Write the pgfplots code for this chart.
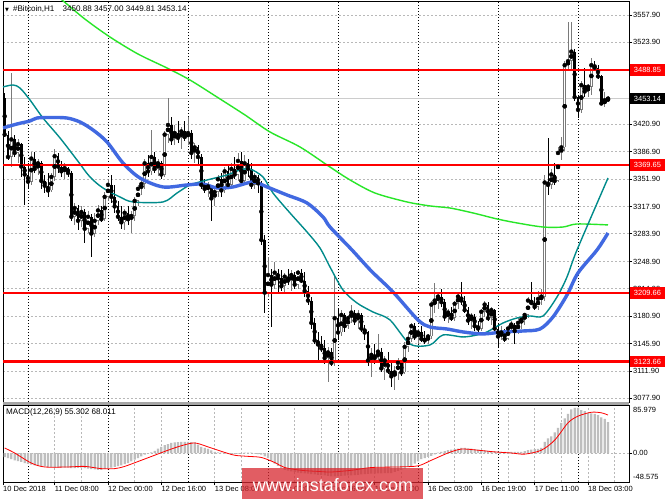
\documentclass[border=0pt]{standalone}
\usepackage{fontspec}
\setmainfont{Liberation Sans}
\newfontfamily\dejavu{DejaVu Sans}
\usepackage{pgfplots}
\usepackage{pgfplotstable}
\pgfplotsset{compat=1.18}
\newcommand\lbl{\fontsize{7.5}{9}\selectfont}
\newcommand\ttl{\fontsize{8.1}{9.5}\selectfont}
\definecolor{bullc}{HTML}{7A7A7A}
\definecolor{maBlue}{HTML}{4169E1}
\definecolor{maTeal}{HTML}{008B8B}
\definecolor{maGreen}{HTML}{28E628}
\definecolor{histc}{HTML}{BEBEBE}
\definecolor{gridc}{HTML}{B8B8B8}
\definecolor{lvlred}{HTML}{FF0000}
\definecolor{wmred}{HTML}{D7282F}

\pgfplotstableread{
i O H L C
1 3454 3460 3405 3408
2 3408 3412 3376 3380
3 3380 3485 3368 3402
4 3402 3408 3380 3385
5 3385 3402 3372 3396
6 3396 3398 3355 3368
7 3368 3380 3320 3358
8 3358 3372 3340 3349
9 3349 3386 3345 3378
10 3378 3386 3360 3365
11 3365 3378 3358 3372
12 3372 3375 3340 3350
13 3350 3358 3335 3344
14 3344 3360 3330 3338
15 3338 3360 3336 3355
16 3355 3390 3350 3381
17 3381 3385 3360 3368
18 3368 3375 3355 3362
19 3362 3372 3352 3366
20 3366 3368 3355 3360
21 3360 3362 3300 3305
22 3305 3322 3295 3316
23 3316 3320 3288 3300
24 3300 3318 3292 3311
25 3311 3315 3272 3290
26 3290 3312 3285 3305
27 3305 3308 3255 3284
28 3284 3310 3280 3300
29 3300 3320 3295 3313
30 3313 3318 3298 3302
31 3302 3336 3300 3330
32 3330 3352 3325 3345
33 3345 3358 3322 3330
34 3330 3345 3310 3318
35 3318 3325 3300 3305
36 3305 3318 3290 3298
37 3298 3315 3288 3310
38 3310 3318 3295 3302
39 3302 3312 3285 3306
40 3306 3330 3300 3325
41 3325 3345 3318 3340
42 3340 3352 3332 3346
43 3346 3378 3340 3372
44 3372 3382 3355 3362
45 3362 3414 3358 3380
46 3380 3386 3360 3365
47 3365 3378 3356 3372
48 3372 3375 3352 3358
49 3358 3412 3355 3408
50 3408 3454 3398 3420
51 3420 3430 3395 3402
52 3402 3420 3395 3410
53 3410 3425 3398 3404
54 3404 3418 3390 3412
55 3412 3425 3400 3405
56 3405 3430 3395 3410
57 3410 3414 3378 3385
58 3385 3398 3372 3392
59 3392 3395 3370 3380
60 3380 3384 3340 3345
61 3345 3352 3335 3340
62 3340 3348 3330 3343
63 3343 3345 3300 3328
64 3328 3342 3318 3336
65 3336 3358 3330 3352
66 3352 3360 3330 3338
67 3338 3368 3335 3362
68 3362 3370 3340 3345
69 3345 3372 3340 3365
70 3365 3380 3352 3358
71 3358 3385 3350 3375
72 3375 3386 3345 3350
73 3350 3383 3348 3372
74 3372 3378 3355 3365
75 3365 3372 3340 3345
76 3345 3360 3340 3355
77 3355 3358 3335 3347
78 3347 3350 3270 3276
79 3276 3282 3184 3210
80 3210 3255 3205 3232
81 3232 3240 3167 3220
82 3220 3248 3215 3235
83 3235 3240 3210 3228
84 3228 3238 3212 3218
85 3218 3235 3210 3230
86 3230 3240 3220 3225
87 3225 3238 3212 3232
88 3232 3236 3215 3220
89 3220 3238 3215 3235
90 3235 3240 3222 3225
91 3225 3236 3205 3212
92 3212 3218 3195 3200
93 3200 3205 3165 3172
94 3172 3178 3145 3150
95 3150 3160 3126 3145
96 3145 3155 3135 3140
97 3140 3150 3120 3128
98 3128 3142 3098 3135
99 3135 3140 3118 3122
100 3122 3232 3118 3178
101 3178 3190 3150 3160
102 3160 3188 3155 3182
103 3182 3185 3160 3168
104 3168 3182 3165 3178
105 3178 3195 3172 3185
106 3185 3188 3170 3175
107 3175 3188 3165 3182
108 3182 3185 3160 3165
109 3165 3170 3150 3160
110 3160 3162 3118 3125
111 3125 3140 3104 3132
112 3132 3145 3120 3128
113 3128 3158 3125 3136
114 3136 3140 3110 3115
115 3115 3130 3100 3125
116 3125 3135 3108 3112
117 3112 3125 3092 3105
118 3105 3118 3088 3110
119 3110 3128 3100 3122
120 3122 3125 3105 3110
121 3110 3148 3108 3142
122 3142 3160 3135 3152
123 3152 3172 3148 3168
124 3168 3172 3150 3155
125 3155 3165 3145 3160
126 3160 3168 3148 3152
127 3152 3162 3145 3150
128 3150 3158 3145 3155
129 3155 3200 3152 3195
130 3195 3222 3185 3200
131 3200 3210 3190 3205
132 3205 3215 3192 3198
133 3198 3202 3175 3180
134 3180 3190 3172 3185
135 3185 3192 3175 3178
136 3178 3200 3175 3196
137 3196 3210 3190 3205
138 3205 3223 3195 3200
139 3200 3206 3185 3188
140 3188 3192 3170 3175
141 3175 3185 3165 3180
142 3180 3183 3162 3168
143 3168 3175 3160 3165
144 3165 3190 3162 3186
145 3186 3200 3180 3195
146 3195 3198 3175 3178
147 3178 3192 3170 3188
148 3188 3190 3160 3165
149 3165 3172 3142 3155
150 3155 3168 3150 3160
151 3160 3165 3148 3152
152 3152 3170 3150 3165
153 3165 3175 3160 3170
154 3170 3172 3145 3162
155 3162 3178 3158 3172
156 3172 3180 3165 3176
157 3176 3185 3170 3182
158 3182 3205 3178 3200
159 3200 3223 3195 3197
160 3197 3205 3188 3192
161 3192 3212 3188 3202
162 3202 3215 3195 3205
163 3205 3358 3200 3348
164 3348 3404 3332 3345
165 3345 3365 3340 3358
166 3358 3372 3345 3350
167 3350 3392 3348 3385
168 3385 3405 3376 3392
169 3392 3500 3388 3495
170 3495 3549 3488 3500
171 3500 3549 3490 3512
172 3512 3515 3450 3455
173 3455 3458 3429 3439
174 3439 3475 3435 3470
175 3470 3491 3455 3462
176 3462 3472 3455 3468
177 3468 3504 3458 3495
178 3495 3500 3488 3492
179 3492 3495 3478 3481
180 3481 3483 3445 3447
181 3447 3462 3443 3451
182 3450.88 3457 3449.81 3453.14
}\candles

\pgfplotstableread{
i P
11.6 3598
18.2 3576.7
25 3553
32.6 3530.3
41 3509
49.7 3491.5
56.6 3476.4
64.7 3455.1
73.1 3432.6
80.6 3411.3
89.6 3392.5
98.6 3367.4
104.6 3351.2
112.1 3334.8
121.7 3323.6
128.6 3318.6
134.6 3316.0
141.5 3309.8
148.7 3302.3
154.7 3297.3
162.5 3292.2
168.5 3292.2
172.7 3296
182 3294.8
}\maGreenT

\pgfplotstableread{
i P
0.5 3416.3
4.7 3421.3
8.6 3425.1
10.7 3428.8
14.6 3429.5
19.7 3428.8
23.6 3423.8
27.5 3413.8
31.7 3398.8
36.5 3372.4
41.6 3353.6
48.5 3342.4
55.7 3344.9
60.5 3346.1
64.7 3341.1
69.5 3342.4
75.5 3348.6
79.7 3342.4
85.7 3332.3
91.7 3322.3
96.5 3304.8
98.6 3292.2
105.2 3263.4
111 3237
117.5 3210.8
125 3175.7
128.6 3166.9
133.7 3164.4
138.5 3160.7
144.5 3158.2
150.5 3160.7
156.5 3161.9
161.6 3164.4
165.5 3179.5
169.7 3207.0
173 3234.6
178.7 3263.4
182 3284.7
}\maBlueT

\pgfplotstableread{
i P
0.5 3467.7
3.5 3470.2
5.6 3466.4
8.6 3451.4
12.5 3428.8
17.6 3403.8
22.7 3376.2
26.6 3354.9
30.5 3341.1
35.6 3329.8
39.5 3323.6
48.5 3323.6
52.7 3334.8
56.6 3344.9
61.7 3351.1
67.7 3357.4
71.6 3363.7
74.6 3364.9
78.5 3354.9
81.5 3334.8
86.6 3309.8
91.7 3286.0
95.6 3265.9
98.6 3242.1
102.5 3213.3
106.7 3197.0
111.5 3185.7
116.6 3175.7
122.6 3145.6
128.6 3144.4
132.5 3156.9
138.5 3154.4
142.7 3156.9
145.7 3160.7
150.5 3171.9
154.7 3178.2
158.6 3180.7
162.5 3180.7
166.7 3204.5
169.7 3229.6
172.7 3263.4
182 3353.6
}\maTealT

\pgfplotstableread{
x y
0.5 3488.85
188.3 3488.85
nan nan
0.5 3369.65
188.3 3369.65
nan nan
0.5 3209.66
188.3 3209.66
}\levelsT

\pgfplotstableread{
x y
0.5 3123.66
188.3 3123.66
}\levelLowT

\pgfplotstableread{
i v
1 -7.5
2 -9
3 -11
4 -13
5 -14.5
6 -16
7 -18
8 -19.5
9 -21
10 -22
11 -23
12 -23.5
13 -24
14 -25
15 -25.5
16 -26
17 -26
18 -26
19 -26
20 -26
21 -27
22 -27
23 -26.5
24 -26
25 -27
26 -28
27 -29
28 -29.5
29 -30
30 -30
31 -29
32 -27.5
33 -26
34 -25
35 -23.5
36 -22
37 -20
38 -18
39 -15
40 -12
41 -9
42 -6
43 -3
44 -1
45 1
46 4
47 8
48 11
49 14
50 16
51 18
52 19
53 19.5
54 20
55 20
56 20
57 19.5
58 19
59 15
60 11
61 9
62 7.5
63 4.5
64 2
65 1
66 0.5
67 -1
68 -1.5
69 -2
70 -1.5
71 -1
72 -0.5
73 0.5
74 0.5
75 0.5
76 -1
77 -2
78 -3
79 -6
80 -9
81 -14
82 -19
83 -23
84 -27
85 -30
86 -31.5
87 -33
88 -34
89 -35
90 -36
91 -36.5
92 -37
93 -38
94 -38.5
95 -39
96 -39
97 -40
98 -41
99 -42
100 -42
101 -41.5
102 -41
103 -40.5
104 -40
105 -40
106 -39.5
107 -39
108 -38.5
109 -38
110 -37.5
111 -37
112 -37
113 -36.5
114 -36.5
115 -36
116 -36
117 -36
118 -34
119 -32
120 -30
121 -28
122 -25
123 -23
124 -19
125 -15
126 -11
127 -9
128 -7
129 -5
130 -2.5
131 0.5
132 2
133 3.5
134 5
135 6
136 7
137 8
138 9
139 9
140 8.5
141 8
142 7
143 6
144 5
145 4.5
146 4
147 3.5
148 3
149 2.5
150 2
151 2
152 2
153 2
154 2
155 2
156 2
157 3.5
158 5
159 6
160 7
161 7.5
162 9
163 20
164 26
165 30
166 37
167 45
168 54
169 62
170 70
171 78
172 81
173 81
174 77
175 75
176 72
177 71
178 70
179 68
180 64
181 61
182 55.3
}\macdT

\pgfplotstableread{
i s
1 9
4 0
9 -18
13 -25
20 -25
25 -24
30 -28
34 -28
37 -24
42 -13
46 -4
50 5
54 13
58 18
62 11
66 3
70 -4
74 -6
78 -8
82 -17
85 -26
90 -31
95 -33
99 -34
105 -31
111 -26
119 -25
125 -23
129 -13
134 0
138 7
143 5
148 2
153 0
157 -2
162 5
166 23
170 54
173 66
177 73
180 72
182 68
}\sigT

\begin{document}
\begin{tikzpicture}
\fill[white] (0,0) rectangle (665pt,499pt);
\begin{axis}[
  at={(3pt,97pt)}, anchor=south west, scale only axis,
  width=626pt, height=401pt,
  xmin=0.5, xmax=188.3, ymin=3072.9, ymax=3575.44,
  axis line style={black, line width=0.8pt},
  xtick=\empty,
  minor xtick={16,24,40,48,64,72,88,96,104,112,120,128,136,144,152,160,168,176,184},
  xminorgrids=true, minor tick length=0pt,
  extra x ticks={8,32,56,80,101,125,149,173}, extra x tick labels={},
  extra x tick style={grid=major, major tick length=0pt,
     major grid style={black, line width=0.6pt, dash pattern=on 1.2pt off 1.8pt}},
  ytick={3557.9,3523.9,3488.9,3453.9,3420.9,3386.9,3351.9,3317.9,3283.9,3248.9,3214.9,3180.9,3145.9,3111.9,3077.9},
  yticklabels={3557.90,3523.90,3488.90,3453.90,3420.90,3386.90,3351.90,3317.90,3283.90,3248.90,3214.90,3180.90,3145.90,3111.90,3077.90},
  ymajorgrids=true, ytick pos=right, yticklabel pos=right,
  tick align=outside, major tick length=3pt,
  tick style={black, line width=0.5pt},
  major grid style={gridc, line width=0.5pt, dash pattern=on 2pt off 2pt},
  minor grid style={gridc, line width=0.5pt, dash pattern=on 2pt off 2pt},
  yticklabel style={font=\lbl, anchor=west, inner sep=0pt, xshift=1pt},
  unbounded coords=jump,
]
\addplot[gray!40, line width=0.6pt, forget plot] coordinates {(0.5,3453.14) (188.3,3453.14)};
% wicks
\addplot[only marks, mark=none, forget plot,
  restrict expr to domain={\thisrow{C}-\thisrow{O}}{0:3000},
  error bars/.cd, y dir=both, y explicit, error mark=none,
  error bar style={line width=0.8pt, color=bullc}]
  table[x=i, y=C, y error plus expr=\thisrow{H}-\thisrow{C}, y error minus expr=\thisrow{C}-\thisrow{L}] {\candles};
\addplot[only marks, mark=none, forget plot,
  restrict expr to domain={\thisrow{C}-\thisrow{O}}{-3000:-0.001},
  error bars/.cd, y dir=both, y explicit, error mark=none,
  error bar style={line width=0.8pt, color=black}]
  table[x=i, y=C, y error plus expr=\thisrow{H}-\thisrow{C}, y error minus expr=\thisrow{C}-\thisrow{L}] {\candles};
% bull bodies
\addplot[only marks, mark=none, forget plot,
  restrict expr to domain={\thisrow{C}-\thisrow{O}}{0:3000},
  error bars/.cd, y dir=both, y explicit, error mark=none,
  error bar style={line width=2.5pt, color=bullc}]
  table[x=i, y expr={0.5*(\thisrow{O}+\thisrow{C})}, y error expr={max(0.5*(\thisrow{C}-\thisrow{O}),0.9)}] {\candles};
\addplot[only marks, mark=none, forget plot,
  restrict expr to domain={\thisrow{C}-\thisrow{O}}{0:3000},
  error bars/.cd, y dir=both, y explicit, error mark=none,
  error bar style={line width=1.1pt, color=white}]
  table[x=i, y expr={0.5*(\thisrow{O}+\thisrow{C})}, y error expr={max(0.5*(\thisrow{C}-\thisrow{O})-1.0,0)}] {\candles};
% bear bodies
\addplot[only marks, mark=none, forget plot,
  restrict expr to domain={\thisrow{C}-\thisrow{O}}{-3000:-0.001},
  error bars/.cd, y dir=both, y explicit, error mark=none,
  error bar style={line width=2.5pt, color=black}]
  table[x=i, y expr={0.5*(\thisrow{O}+\thisrow{C})}, y error expr={max(0.5*(\thisrow{O}-\thisrow{C}),0.9)}] {\candles};
% moving averages
\addplot[maGreen, line width=1.4pt, smooth, mark=none] table[x=i, y=P] {\maGreenT};
\addplot[maTeal, line width=1.4pt, smooth, mark=none] table[x=i, y=P] {\maTealT};
\addplot[maBlue, line width=3.4pt, smooth, mark=none] table[x=i, y=P] {\maBlueT};
% levels
\addplot[draw=lvlred, line width=2pt, mark=none] table[x=x, y=y] {\levelsT};
\addplot[draw=lvlred, line width=2.1pt, mark=none] table[x=x, y=y] {\levelLowT};
\end{axis}

\fill[gray!70] (3pt,94.5pt) rectangle (629pt,97pt);

\begin{axis}[
  at={(3pt,17pt)}, anchor=south west, scale only axis,
  width=626pt, height=77pt,
  xmin=0.5, xmax=188.3, ymin=-51.94, ymax=85.979,
  axis line style={black, line width=0.8pt},
  xtick={0.5,16,32,48,64,80,96,112,128,144,160,176},
  xticklabels={10 Dec 2018,11 Dec 08:00,12 Dec 00:00,12 Dec 16:00,13 Dec 08:00,14 Dec 00:00,14 Dec 16:00,15 Dec 11:00,16 Dec 03:00,16 Dec 19:00,17 Dec 11:00,18 Dec 03:00},
  xtick pos=bottom,
  minor xtick={16,24,40,48,64,72,88,96,104,112,120,128,136,144,152,160,168,176,184},
  xminorgrids=true, minor tick length=0pt,
  extra x ticks={8,32,56,80,101,125,149,173}, extra x tick labels={},
  extra x tick style={grid=major, major tick length=0pt,
     major grid style={black, line width=0.6pt, dash pattern=on 1.2pt off 1.8pt}},
  ytick={0}, yticklabels={0.00}, ymajorgrids=true, ytick pos=right, yticklabel pos=right,
  tick align=outside, major tick length=3pt,
  tick style={black, line width=0.5pt},
  major grid style={gridc, line width=0.5pt, dash pattern=on 2pt off 2pt},
  minor grid style={gridc, line width=0.5pt, dash pattern=on 2pt off 2pt},
  yticklabel style={font=\lbl, anchor=west, inner sep=0pt, xshift=1pt},
  xticklabel style={font=\lbl, anchor=north west, inner sep=0pt, xshift=0pt, yshift=-1pt},
]
\addplot[ybar, bar width=2.2pt, bar shift=0pt, fill=histc, draw=none] table[x=i, y=v] {\macdT};
\addplot[red, line width=0.8pt, smooth, mark=none] table[x=i, y=s] {\sigT};
\end{axis}

% right-side labels
\node[fill=lvlred, text=white, font=\lbl, inner sep=0pt, minimum width=35pt, minimum height=11.5pt] at (647.5pt,428.9pt) {3488.85};
\node[fill=black, text=white, font=\lbl, inner sep=0pt, minimum width=35pt, minimum height=11.5pt] at (647.5pt,400.4pt) {3453.14};
\node[fill=lvlred, text=white, font=\lbl, inner sep=0pt, minimum width=35pt, minimum height=11.5pt] at (647.5pt,333.8pt) {3369.65};
\node[fill=lvlred, text=white, font=\lbl, inner sep=0pt, minimum width=35pt, minimum height=11.5pt] at (647.5pt,206.1pt) {3209.66};
\node[fill=lvlred, text=white, font=\lbl, inner sep=0pt, minimum width=35pt, minimum height=11.5pt] at (647.5pt,137.5pt) {3123.66};
\node[font=\lbl, anchor=west, inner sep=0pt] at (633pt,89pt) {85.979};
\node[font=\lbl, anchor=west, inner sep=0pt] at (633pt,22pt) {-48.575};

% titles
\node[font=\ttl, anchor=west, inner sep=0pt] at (5pt,490pt) {{\dejavu\fontsize{5}{6}\selectfont ▼}\hspace{4pt}\#Bitcoin,H1\hspace{6pt} 3450.88 3457.00 3449.81 3453.14};
\node[font=\ttl, anchor=west, inner sep=0pt] at (6pt,87pt) {MACD(12,26,9) 55.302 68.011};

% watermark
\fill[wmred, fill opacity=0.75] (242pt,0pt) rectangle (423pt,31pt);
\node[text=white, font=\fontsize{18}{21}\selectfont, inner sep=0pt] at (333pt,14pt) {www.instaforex.com};
\end{tikzpicture}
\end{document}
